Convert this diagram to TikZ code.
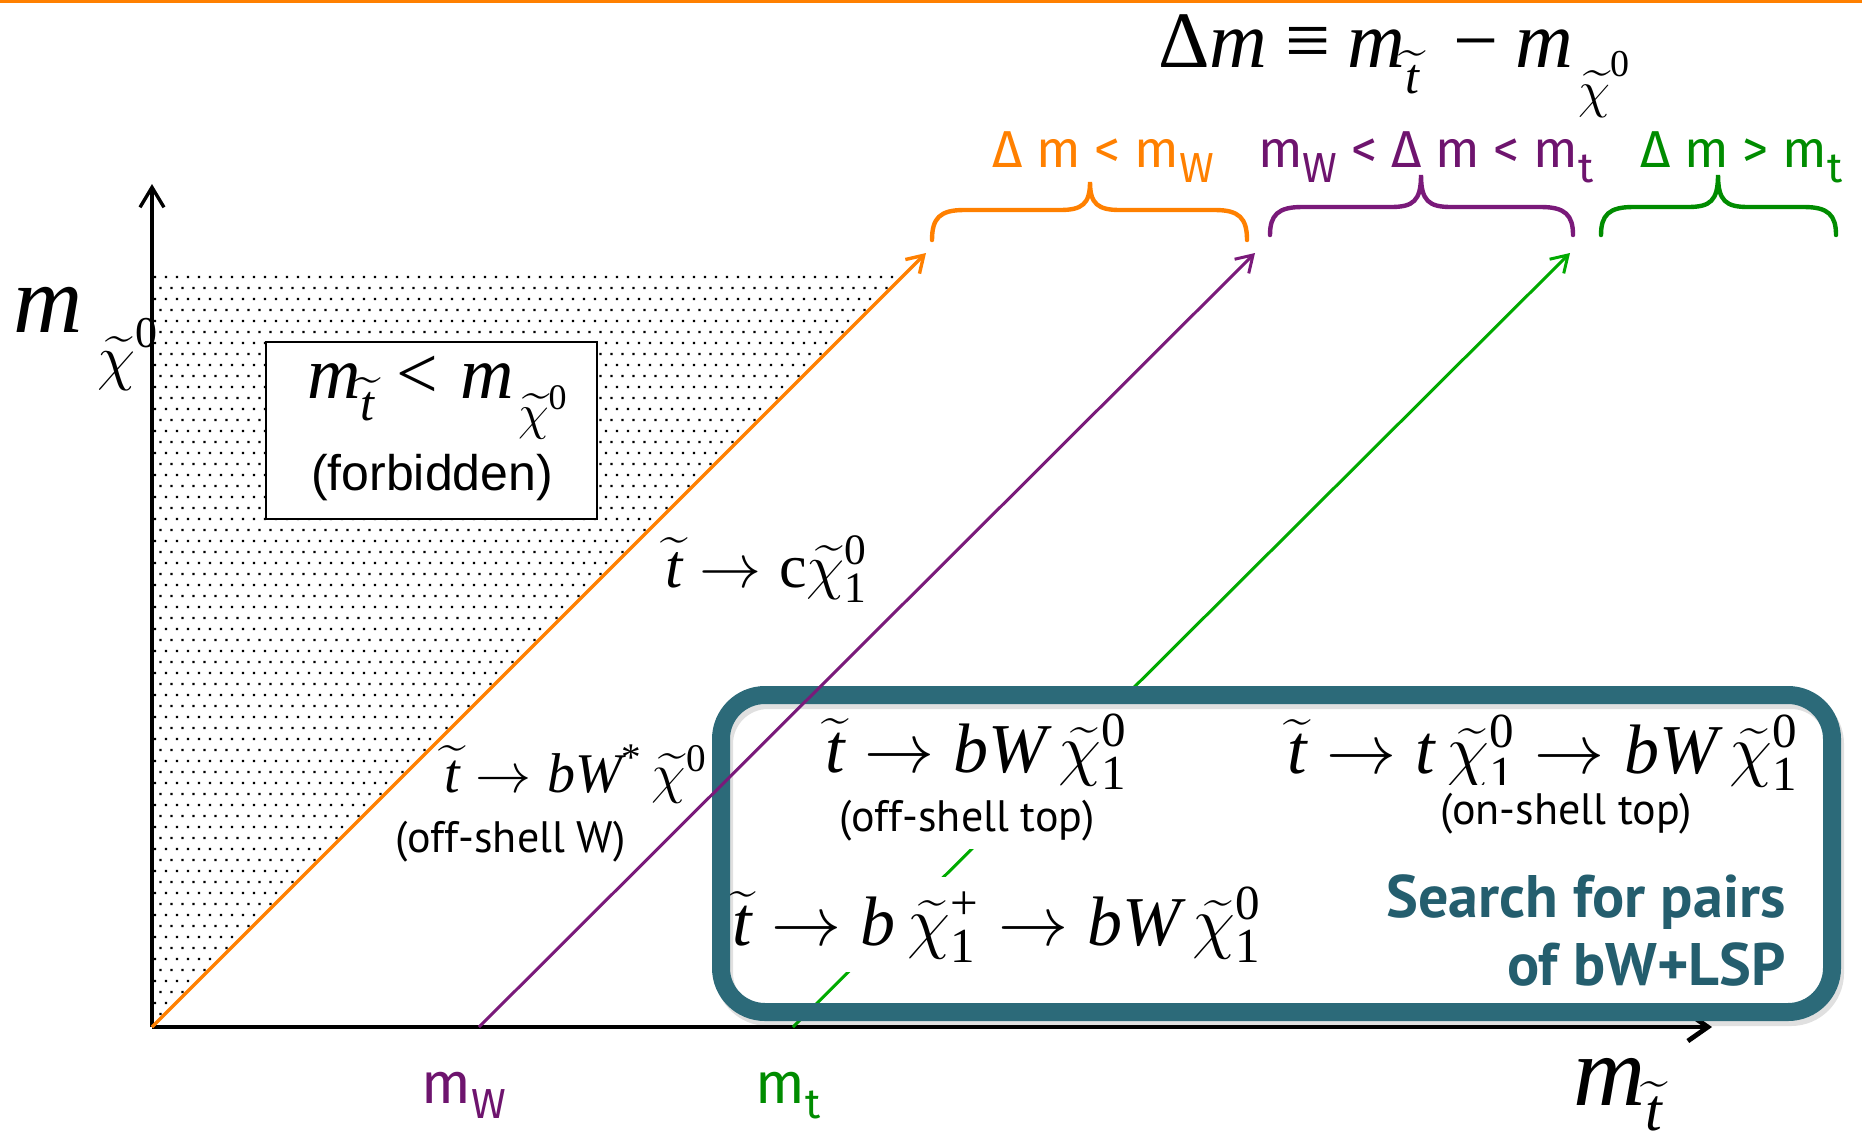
\documentclass[tikz,border=0pt]{standalone}
\usepackage{fix-cm}
\usepackage{amsmath}
\usepackage{fontspec}
\usetikzlibrary{arrows.meta}
\newfontfamily\tms{Liberation Serif}
\newfontfamily\lsans{Liberation Sans}
\newfontfamily\fira{Fira Sans}
\newfontfamily\ptsans{PT Sans}
\definecolor{myorange}{RGB}{255,128,0}
\definecolor{mypurple}{RGB}{122,26,122}
\definecolor{mypurpletext}{RGB}{110,20,110}
\definecolor{mygreen}{RGB}{0,170,0}
\definecolor{mygreentext}{RGB}{0,140,0}
\definecolor{myteal}{RGB}{44,106,121}
\definecolor{mytealtext}{RGB}{36,94,110}
\newcommand{\vi}[1]{\text{\tms\itshape #1}}
\newcommand{\vr}[1]{\text{\tms\upshape #1}}
\newcommand{\tld}[1]{\widetilde{\vi{#1}}}
\newcommand{\tlc}{\widetilde{\chi}}
\newcommand{\arr}{\mathrel{\rightarrow}}
\newcommand{\fsz}[1]{\fontsize{#1}{#1}\selectfont}
\newcommand{\lsub}[1]{\raisebox{-0.3em}{\fsz{21}#1}}
\newcommand{\upbrace}[7]{%
  \draw[bracestyle,#1] (#2,#5) .. controls (#2,#6+8) and (#2+8,#6) .. (#2+32,#6)
    -- (#3-30,#6) .. controls (#3-8,#6) and (#3,#6-6) .. (#3,#7)
    .. controls (#3,#6-6) and (#3+8,#6) .. (#3+30,#6)
    -- (#4-32,#6) .. controls (#4-8,#6) and (#4,#6+8) .. (#4,#5);}
\begin{document}
\begin{tikzpicture}[x=0.5pt,y=-0.5pt,
  axisline/.style={line width=1.7pt,-{Straight Barb[length=10pt,width=12pt]}},
  xaxisline/.style={line width=2.4pt,-{Straight Barb[length=10pt,width=14pt]}},
  massline/.style={line width=1.5pt,-{Straight Barb[length=8pt,width=10pt]}},
  bracestyle/.style={line width=2.2pt,line cap=round},
  txt/.style={inner sep=0pt,anchor=base west},
  boxtxt/.style={inner xsep=2pt,inner ysep=5pt,anchor=base west,fill=white},
  lab/.style={inner sep=0pt,anchor=base west,font=\fsz{26}\fira},
  axlab/.style={inner sep=0pt,anchor=base west,font=\fsz{29}\fira},
  note/.style={inner sep=0pt,font=\fsz{22}\ptsans},
  notefill/.style={inner xsep=2pt,inner ysep=4pt,fill=white,font=\fsz{22}\ptsans}]
\useasboundingbox (0,0) rectangle (1862,1131);
\fill[white] (0,0) rectangle (1862,1131);
\fill[myorange] (0,0) rectangle (1862,3);

% coordinates
\coordinate (O) at (152,1027);
\coordinate (mW) at (479,1027);
\coordinate (mt) at (793,1027);
\coordinate (ytip) at (152,184);
\coordinate (xtip) at (1712,1027);
\coordinate (tipO) at (926,253);
\coordinate (tipP) at (1255,253);
\coordinate (tipG) at (1570,253);

% dotted forbidden region (staggered grid of small square dots)
\begin{scope}
\clip (154,275) -- (903,275) -- (152,1027) -- cycle;
\foreach \r in {0,...,68} {
  \pgfmathsetmacro\yy{277+11*\r}
  \pgfmathsetmacro\xo{mod(\r,2)==0 ? 155 : 160.5}
  \pgfmathtruncatemacro\nc{(1027-\yy+152-\xo)/11+1}
  \fill[black] \foreach \c in {0,...,\nc} {(\xo+11*\c-1.2,\yy-1.2) rectangle ++(2.4,2.4)};
}
\end{scope}

% forbidden box
\node[draw,line width=0.8pt,fill=white,minimum width=165.5pt,minimum height=88.5pt,inner sep=0pt] (forbid) at (431.5,430.5) {};
\node[txt,font=\fsz{37}\tms] (forbidf) at (307,398)
  {\textit{m}\raisebox{-0.3em}{\fsz{25}$\tld{t}$}\hspace{0.3em}<\hspace{0.3em}\textit{m}\hspace{0.05em}\raisebox{-0.43em}{\fsz{25}$\tlc$}\raisebox{-0.16em}{\fsz{18}0}};
\node[inner sep=0pt,anchor=base,font=\fsz{25}\lsans] (forbidt) at (432,490) {(forbidden)};

% axes
\draw[axisline] (O) -- (ytip);
\draw[xaxisline] (O) -- (xtip);

% mass lines (under the box)
\draw[massline,myorange,line width=1.7pt] (O) -- (tipO);
\draw[massline,mygreen] (mt) -- (tipG);

% texts inside the box (white background)
\node[boxtxt,font=\fsz{35}] (bw1) at (821,772)
  {$\tld{t}\arr\vi{b}\vi{W}\,\tlc^{\vr{0}}_{\vr{1}}$};
\node[notefill,anchor=base] (offtop) at (967,831) {(off-shell top)};
\node[boxtxt,font=\fsz{35}] (bw2) at (728,945)
  {$\tld{t}\arr\vi{b}\,\tlc^{\vr{+}}_{\vr{1}}\arr\vi{b}\vi{W}\,\tlc^{\vr{0}}_{\vr{1}}$};
\node[boxtxt,font=\fsz{35}] (bw3) at (1283,773)
  {$\tld{t}\arr\vi{t}\,\tlc^{\vr{0}}_{\vr{1}}\arr\vi{b}\vi{W}\,\tlc^{\vr{0}}_{\vr{1}}$};
\node[notefill,anchor=base] (ontop) at (1566,824) {(on-shell top)};
\node[inner sep=0pt,anchor=base east,font=\fsz{30}\ptsans\bfseries,text=mytealtext] (search1) at (1786,917) {Search for pairs};
\node[inner sep=0pt,anchor=base east,font=\fsz{30}\ptsans\bfseries,text=mytealtext] (search2) at (1786,985) {of bW+LSP};

% the rounded box with a soft shadow
\draw[line width=9pt,black,opacity=0.12,rounded corners=22pt] (724,700) rectangle (1835,1017);
\node[draw=myteal,line width=9pt,rounded corners=22pt,minimum width=555.5pt,minimum height=158.5pt,inner sep=0pt] (searchbox) at (1276.5,853.5) {};

% purple line on top
\draw[massline,mypurple] (mW) -- (tipP);

% other formulas
\node[txt,font=\fsz{31}] (charm) at (665,587)
  {$\tld{t}\arr\vr{c}\tlc^{\vr{0}}_{\vr{1}}$};
\node[txt,font=\fsz{28}] (offw) at (444,792)
  {$\tld{t}\arr\vi{b}\vi{W}^{\vr{*}}\,\tlc^{\vr{0}}$};
\node[note,anchor=base west] (offwt) at (395,852) {(off-shell W)};

% title
\node[txt,font=\fsz{40}\tms] (title) at (1158,67)
  {Δ\textit{m}\hspace{0.22em}≡\hspace{0.22em}\textit{m}\raisebox{-0.33em}{\fsz{25}$\tld{t}$}\hspace{0.42em}−\hspace{0.22em}\textit{m}\hspace{0.06em}\raisebox{-0.5em}{\fsz{26}$\tlc$}\raisebox{-0.12em}{\fsz{19}0}};

% axis labels
\node[txt,font=\fsz{48}\tms] (ylabel) at (13,332)
  {\textit{m}\hspace{0.15em}\raisebox{-0.48em}{\fsz{31}$\tlc$}\raisebox{-0.16em}{\fsz{22}0}};
\node[txt,font=\fsz{50}\tms] (xlabel) at (1573,1105)
  {\textit{m}\raisebox{-0.25em}{\fsz{30}$\tld{t}$}};
\node[axlab,text=mypurpletext] (lmW) at (421,1103) {m\raisebox{-0.26em}{\fsz{21}W}};
\node[axlab,text=mygreentext] (lmt) at (755,1103) {m\raisebox{-0.26em}{\fsz{21}t}};

% region labels and braces
\node[lab,text=myorange] (r1) at (992,167) {Δ m < m\lsub{W}};
\node[lab,text=mypurpletext] (r2) at (1258,167) {m\lsub{W} < Δ m < m\lsub{t}};
\node[lab,text=mygreentext] (r3) at (1640,167) {Δ m > m\lsub{t}};
\upbrace{myorange}{932}{1090}{1247}{240}{210}{182}
\upbrace{mypurple}{1270}{1421}{1573}{235}{207}{175}
\upbrace{mygreentext}{1601}{1718}{1836}{235}{207}{175}
\end{tikzpicture}
\end{document}
